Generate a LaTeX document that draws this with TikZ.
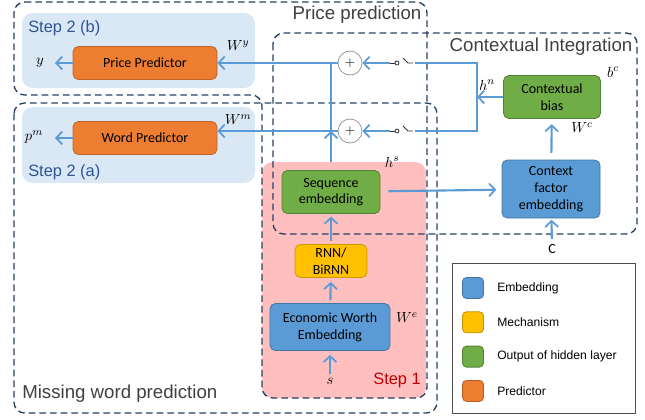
\documentclass[tikz,border=0pt]{standalone}
\usepackage{fontspec}
\setmainfont{Liberation Sans}
\newfontfamily\boxfont{Carlito}
\usepackage{tikz}
\usetikzlibrary{
  arrows.meta,
  calc,
  positioning
}
\definecolor{arrowblue}{RGB}{91,155,213}
\definecolor{embblue}{RGB}{91,155,213}
\definecolor{mechyellow}{RGB}{255,192,0}
\definecolor{hidgreen}{RGB}{112,173,71}
\definecolor{predorange}{RGB}{237,125,49}
\definecolor{stepblue}{RGB}{218,231,244}
\definecolor{steppink}{RGB}{255,191,191}
\definecolor{dashblue}{RGB}{38,64,100}
\definecolor{steptext}{RGB}{47,85,151}
\definecolor{steptitle}{RGB}{192,0,0}
\definecolor{titlegray}{RGB}{64,64,64}

\begin{document}
\begin{tikzpicture}[x=0.75pt, y=-0.75pt,
  blockbox/.style={draw, rounded corners=4pt, align=center, inner sep=0pt,
               font=\boxfont\fontsize{10.5}{12.5}\selectfont, line width=0.6pt},
  embed/.style={blockbox, fill=embblue, draw=embblue!75!black},
  mech/.style={blockbox, fill=mechyellow, draw=mechyellow!80!black},
  hidden/.style={blockbox, fill=hidgreen, draw=hidgreen!75!black},
  pred/.style={blockbox, fill=predorange, draw=predorange!80!black},
  mlabel/.style={inner sep=0pt, font=\fontsize{11}{13}\selectfont},
  plus/.style={circle, draw=gray!80, fill=white, line width=0.6pt,
               minimum size=18pt, inner sep=0pt},
  arr/.style={-{Straight Barb[length=1.6mm, width=3.4mm, line width=1.3pt]},
              line width=1.6pt, arrowblue},
  wire/.style={line width=1.6pt, arrowblue},
  switch/.style={line width=0.6pt, gray!40!black},
  dashbox/.style={draw=dashblue, dash pattern=on 5pt off 3pt, line width=1pt,
              rounded corners=8pt},
  region/.style={rounded corners=8pt, draw=none},
  title/.style={font=\fontsize{14}{16}\selectfont, text=titlegray, inner sep=0pt},
  steplabel/.style={font=\fontsize{12.3}{14}\selectfont, text=steptext, inner sep=0pt}
]
  \useasboundingbox (0,0) rectangle (645,419);

  % shaded step regions
  \fill[region, stepblue] (22,13) rectangle (255,88);
  \fill[region, stepblue] (22,107) rectangle (255,183);
  \fill[region, steppink] (262,162) rectangle (426,398);

  % dashed task boxes
  \draw[dashbox] (14,2) -- (427,2) -- (427,398) -- (262,398) -- (262,95)
    -- (14,95) -- cycle;
  \draw[dashbox] (14,103) rectangle (437,413);
  \draw[dashbox] (273,33) rectangle (637,234);

  \node[title] (ttlprice) at (357,15) {Price prediction};
  \node[title] (ttlctx) at (541,47) {Contextual Integration};
  \node[title, anchor=west] (ttlword) at (22,394) {Missing word prediction};
  \node[steplabel, anchor=west] (stepb) at (28,28) {Step 2 (b)};
  \node[steplabel, anchor=west] (stepa) at (28,172) {Step 2 (a)};
  \node[steplabel, text=steptitle, anchor=east] (stepone) at (421,380) {Step 1};

  % blocks
  \node[pred, minimum width=108pt, minimum height=24.75pt] (pricepred) at (145,63) {Price Predictor};
  \node[pred, minimum width=108pt, minimum height=24.75pt] (wordpred) at (145,138) {Word Predictor};
  \node[hidden, minimum width=73.5pt, minimum height=32.25pt] (seqemb) at (331,192) {Sequence\\embedding};
  \node[mech, minimum width=54pt, minimum height=24.75pt] (rnn) at (331,261) {RNN/\\BiRNN};
  \node[embed, minimum width=90pt, minimum height=35.25pt] (ewe) at (330,327) {Economic Worth\\Embedding};
  \node[hidden, minimum width=72.75pt, minimum height=32.25pt] (ctxbias) at (552,97) {Contextual\\bias};
  \node[embed, minimum width=73.5pt, minimum height=43.5pt] (cfe) at (551,189) {Context\\factor\\embedding};
  \node[plus] (plusA) at (350,63) {$+$};
  \node[plus] (plusB) at (350,131) {$+$};

  % math labels
  \node[mlabel] (ylab) at (40,63) {$y$};
  \node[mlabel] (pmlab) at (34,137) {$p^m$};
  \node[mlabel] (wylab) at (238,46) {$W^y$};
  \node[mlabel] (wmlab) at (238,120) {$W^m$};
  \node[mlabel] (hslab) at (392,162) {$h^s$};
  \node[mlabel] (welab) at (407,318) {$W^e$};
  \node[mlabel] (slab) at (330,381) {$s$};
  \node[mlabel] (hnlab) at (487,85) {$h^n$};
  \node[mlabel] (bclab) at (613,72) {$b^c$};
  \node[mlabel] (wclab) at (582,128) {$W^c$};
  \node[inner sep=0pt, font=\boxfont\fontsize{10.5}{12}\selectfont] (clab) at (552,249) {C};

  \coordinate (yend) at (55,63);
  \coordinate (pmend) at (55,138);
  \coordinate (railtop) at (477,63);
  \coordinate (railbot) at (477,131);

  % outputs
  \draw[arr] (pricepred) -- (yend);
  \draw[arr] (wordpred) -- (pmend);
  \draw[arr] (plusA) -- (plusA -| pricepred.east);
  \draw[arr] (plusB) -- (plusB -| wordpred.east);

  % step 1 chain
  \draw[arr, shorten <=3pt, shorten >=3pt] (slab) -- (ewe);
  \draw[arr, shorten <=2pt, shorten >=3pt] (ewe) -- (rnn);
  \draw[arr, shorten <=2pt, shorten >=2pt] (rnn) -- (seqemb);
  \draw[wire, shorten <=6pt] (seqemb.north) -- (seqemb.north |- plusA);
  \draw[arr, shorten <=6pt] (seqemb.north) -- (seqemb.north |- plusB);

  % context path
  \draw[arr, shorten <=6pt, shorten >=4pt] (seqemb) -- (cfe);
  \draw[arr, shorten <=5pt, shorten >=4pt] (cfe) -- (ctxbias);
  \draw[arr, shorten <=4pt, shorten >=1pt] (clab) -- (cfe);
  \draw[arr] (ctxbias) -- (ctxbias -| railtop);
  \draw[wire] ($(plusA)+(65,0)$) -- (railtop) -- (railbot) -- ($(plusB)+(65,0)$);

  % switches
  \foreach \p in {plusA,plusB} {
    \draw[arr] ($(\p)+(40,0)$) -- (\p);
    \draw[switch] ($(\p)+(40,0)$) -- ($(\p)+(45,0)$);
    \draw[switch] ($(\p)+(47,0)$) circle (1.5pt);
    \draw[switch] ($(\p)+(53,-5)$) -- ($(\p)+(58,0)$) -- ($(\p)+(63,0)$);
  }

  % legend
  \draw[gray!60!black, line width=0.6pt] (452,263) rectangle (635,413);
  \foreach \col/\txt [count=\i] in {embblue/Embedding, mechyellow/Mechanism,
      hidgreen/Output of hidden layer, predorange/Predictor} {
    \node[blockbox, rounded corners=3pt, fill=\col, draw=\col!75!black,
      minimum size=15.75pt] (swatch\i) at (473,{288+(\i-1)*34.3}) {};
    \node[anchor=west, inner sep=0pt, font=\fontsize{9.1}{11}\selectfont]
      (legend\i) at (497,{288+(\i-1)*34.3}) {\txt};
  }
\end{tikzpicture}
\end{document}
